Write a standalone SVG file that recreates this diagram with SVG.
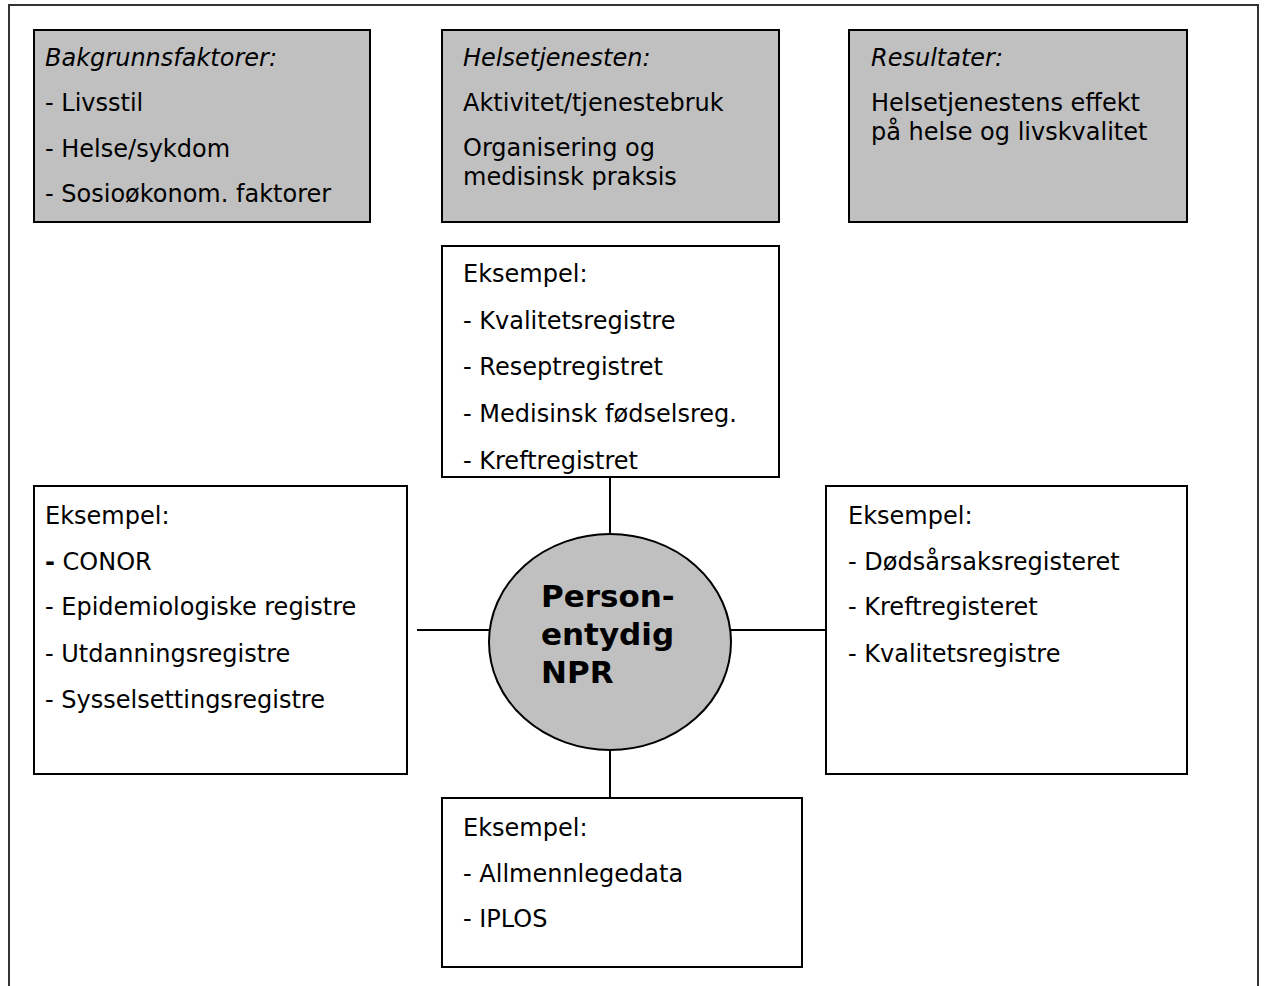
<svg xmlns="http://www.w3.org/2000/svg" width="1265" height="986" viewBox="0 0 1265 986">
<style>
text{font-family:"DejaVu Sans","Verdana",sans-serif;font-size:24px;fill:#000}
.it{font-style:italic}
.b{font-weight:bold}
.big{font-size:31px;font-weight:bold}
.gray{fill:#c0c0c0;stroke:#000;stroke-width:2}
.white{fill:#fff;stroke:#000;stroke-width:2}
.con{stroke:#000;stroke-width:2;fill:none}
</style>
<rect width="1265" height="986" fill="#fff"/>
<path d="M9,986 V5 H1258 V986" fill="none" stroke="#333" stroke-width="2"/>
<g id="connectors">
<line class="con" x1="610" y1="477" x2="610" y2="534"/>
<line class="con" x1="610" y1="750" x2="610" y2="798"/>
<line class="con" x1="417" y1="630" x2="490" y2="630"/>
<line class="con" x1="731" y1="630" x2="826" y2="630"/>
</g>
<g id="bakgrunn">
<rect class="gray" x="34" y="30" width="336" height="192"/>
<text class="it" x="45" y="66">Bakgrunnsfaktorer:</text>
<text x="45" y="111">- Livsstil</text>
<text x="45" y="157">- Helse/sykdom</text>
<text x="45" y="202">- Sosioøkonom. faktorer</text>
</g>
<g id="helsetjenesten">
<rect class="gray" x="442" y="30" width="337" height="192"/>
<text class="it" x="463" y="66">Helsetjenesten:</text>
<text x="463" y="111">Aktivitet/tjenestebruk</text>
<text x="463" y="156">Organisering og</text>
<text x="463" y="185">medisinsk praksis</text>
</g>
<g id="resultater">
<rect class="gray" x="849" y="30" width="338" height="192"/>
<text class="it" x="871" y="66">Resultater:</text>
<text x="871" y="111">Helsetjenestens effekt</text>
<text x="871" y="140">på helse og livskvalitet</text>
</g>
<g id="top-eksempel">
<rect class="white" x="442" y="246" width="337" height="231"/>
<text x="463" y="282">Eksempel:</text>
<text x="463" y="329">- Kvalitetsregistre</text>
<text x="463" y="375">- Reseptregistret</text>
<text x="463" y="422">- Medisinsk fødselsreg.</text>
<text x="463" y="469">- Kreftregistret</text>
</g>
<g id="left-eksempel">
<rect class="white" x="34" y="486" width="373" height="288"/>
<text x="45" y="524">Eksempel:</text>
<text x="45" y="570"><tspan class="b">-</tspan> CONOR</text>
<text x="45" y="615">- Epidemiologiske registre</text>
<text x="45" y="662">- Utdanningsregistre</text>
<text x="45" y="708">- Sysselsettingsregistre</text>
</g>
<g id="right-eksempel">
<rect class="white" x="826" y="486" width="361" height="288"/>
<text x="848" y="524">Eksempel:</text>
<text x="848" y="570">- Dødsårsaksregisteret</text>
<text x="848" y="615">- Kreftregisteret</text>
<text x="848" y="662">- Kvalitetsregistre</text>
</g>
<g id="bottom-eksempel">
<rect class="white" x="442" y="798" width="360" height="169"/>
<text x="463" y="836">Eksempel:</text>
<text x="463" y="882">- Allmennlegedata</text>
<text x="463" y="927">- IPLOS</text>
</g>
<g id="npr">
<ellipse class="gray" cx="610" cy="642" rx="121" ry="108"/>
<text class="big" x="541" y="607">Person-</text>
<text class="big" x="541" y="645">entydig</text>
<text class="big" x="541" y="683">NPR</text>
</g>
</svg>
